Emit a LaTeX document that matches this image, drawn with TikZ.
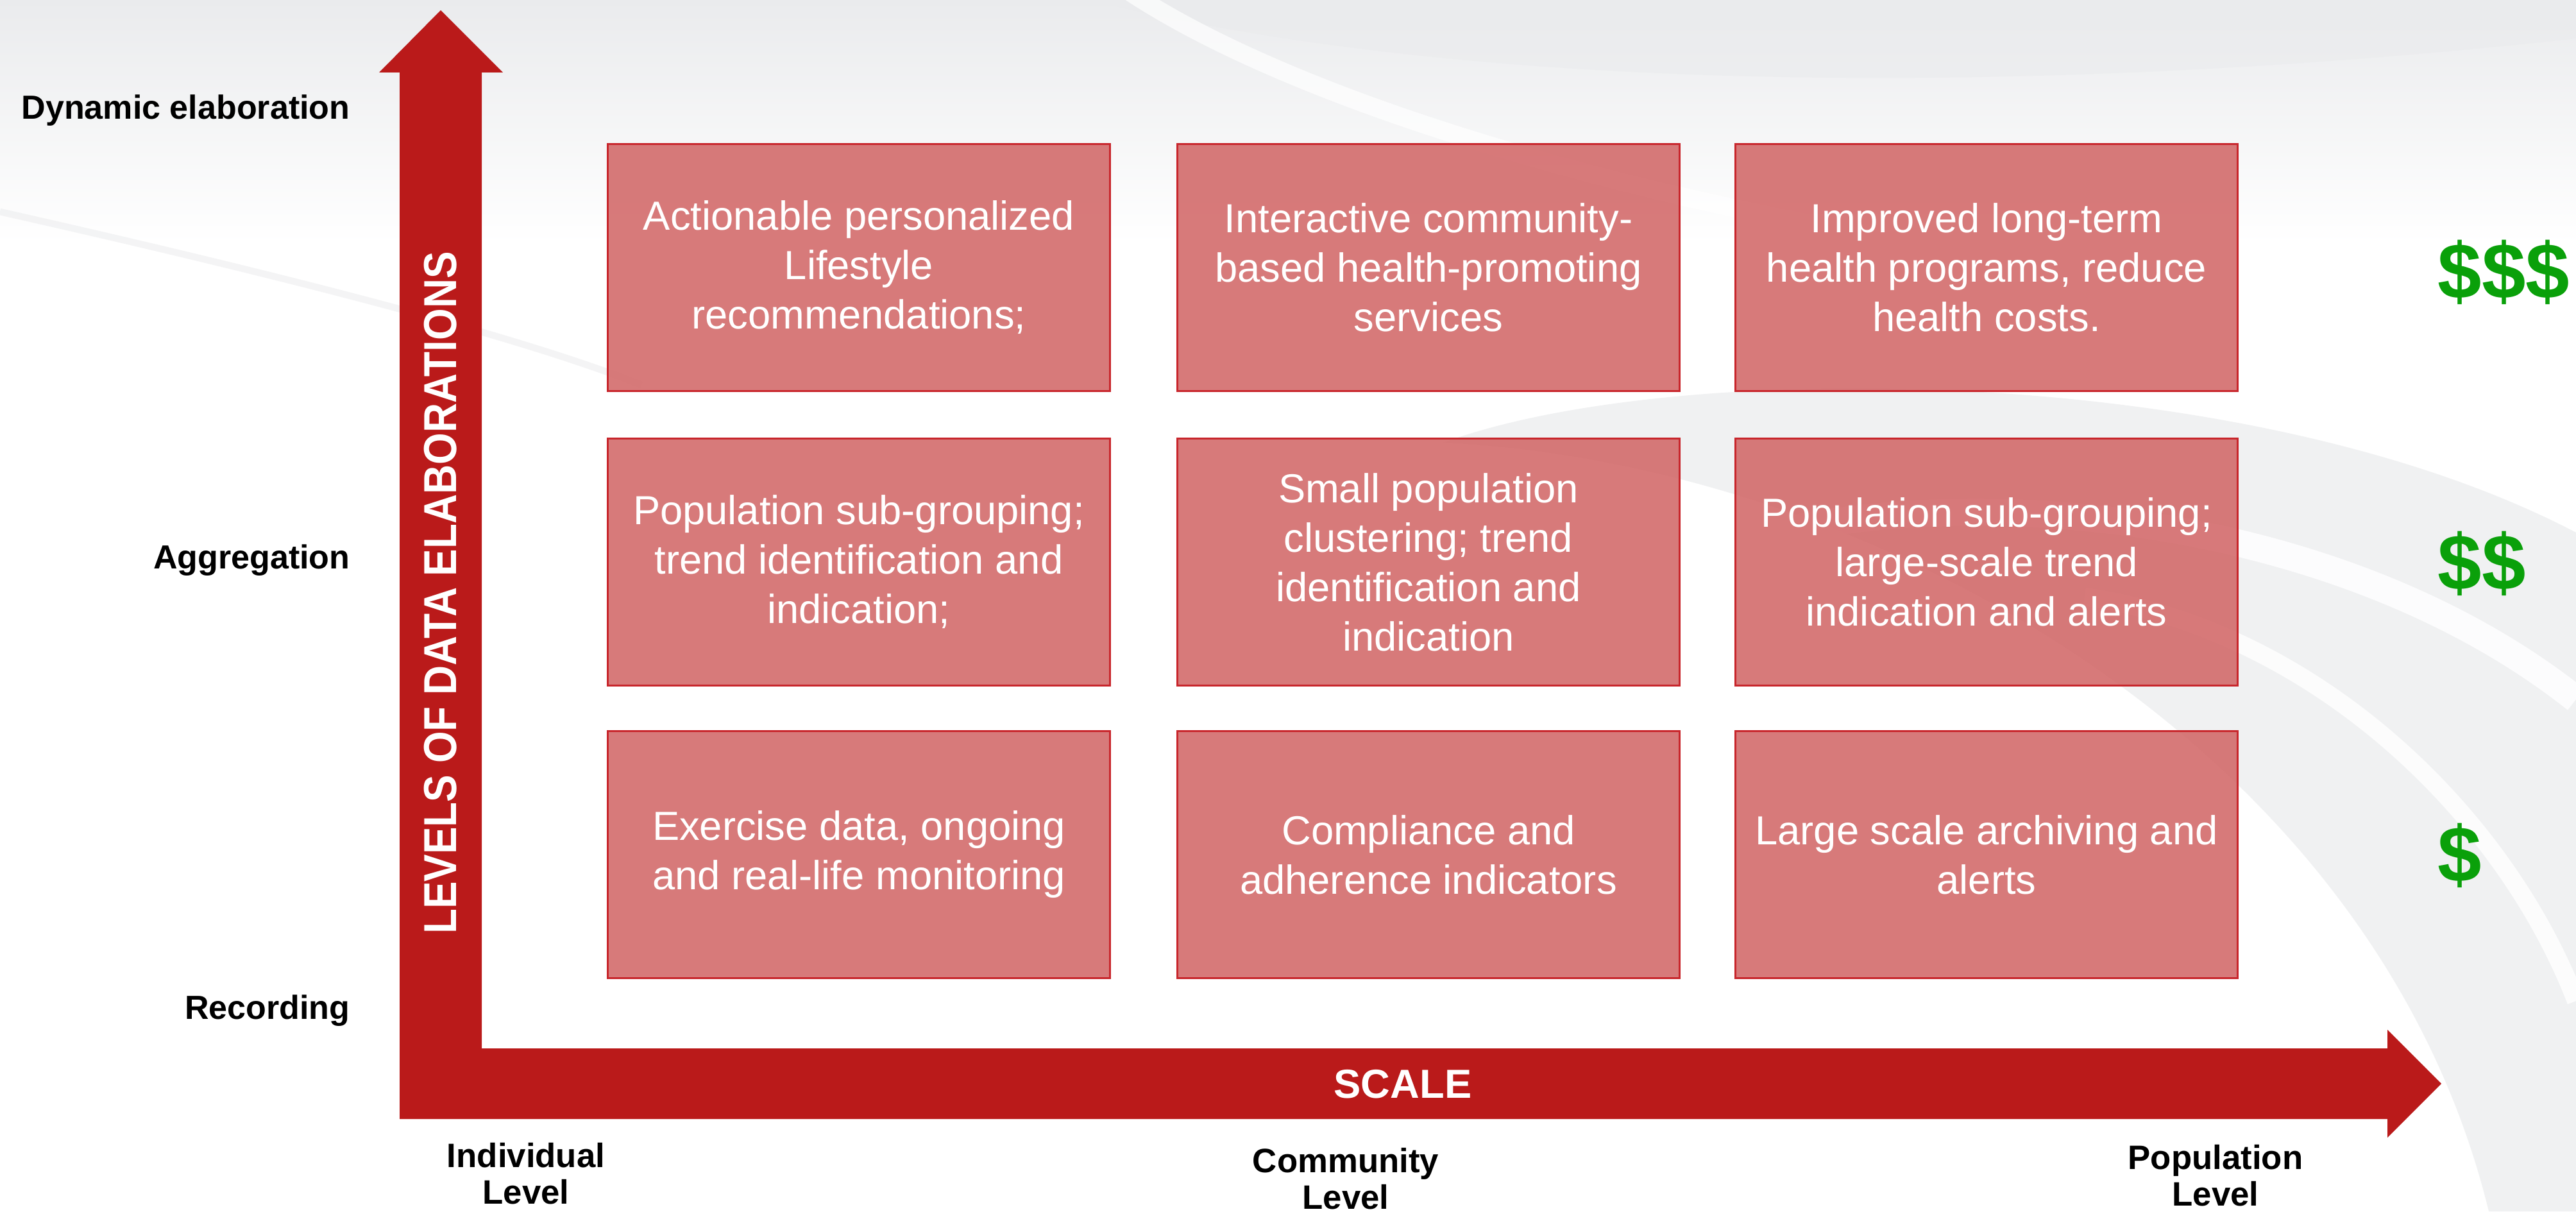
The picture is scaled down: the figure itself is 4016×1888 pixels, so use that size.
\documentclass[tikz,border=0pt]{standalone}
\usepackage{fontspec}
\setmainfont{Liberation Sans}
\usepackage{graphicx}
\definecolor{arrowred}{RGB}{186,26,26}
\definecolor{boxfill}{RGB}{210,104,104}
\definecolor{boxline}{RGB}{200,38,44}
\definecolor{moneygreen}{RGB}{10,160,10}
\definecolor{bgA}{RGB}{234,235,237}
\definecolor{bgB}{RGB}{231,232,234}
\begin{document}
\begin{tikzpicture}[x=0.01cm,y=-0.01cm,
  cell/.style={draw=boxline, line width=0.8pt, fill=boxfill, fill opacity=0.88, text opacity=1,
    minimum width=7.82cm, minimum height=3.84cm, align=center, text=white,
    font=\fontsize{18}{21.9}\selectfont},
  lvl/.style={anchor=east, font=\fontsize{14.8}{17}\selectfont\bfseries},
  scl/.style={align=center, font=\fontsize{15}{16.2}\selectfont\bfseries},
  money/.style={anchor=west, text=moneygreen, font=\fontsize{35}{40}\selectfont\bfseries, inner sep=0pt}]
\useasboundingbox (0,0) rectangle (4016,1888);
% ---------- background ----------
\fill[white] (0,0) rectangle (4016,1888);
\shade[top color=bgA, bottom color=white] (0,0) rectangle (4016,380);
\fill[bgA, opacity=0.6] (1700,0) .. controls (2300,150) and (3200,150) .. (4016,60) -- (4016,0) -- cycle;
\draw[white, line width=8pt, opacity=0.7] (1750,-20) .. controls (2000,150) and (2500,300) .. (3000,380);
\draw[bgA, line width=3pt, opacity=0.5] (0,330) .. controls (400,420) and (800,520) .. (1000,600);
\fill[bgB, opacity=0.6] (2250,690) .. controls (2600,560) and (3500,560) .. (4016,830)
   -- (4016,1888) -- (3880,1888) .. controls (3700,1150) and (2900,720) .. (2250,690) -- cycle;
\draw[white, line width=12pt, opacity=0.85] (2560,900) .. controls (2900,730) and (3600,760) .. (4016,1090);
\draw[white, line width=8pt, opacity=0.8] (3250,930) .. controls (3600,980) and (3900,1260) .. (4016,1560);
% ---------- axes (L-shaped double arrow) ----------
\coordinate (vtip) at (687,16);
\coordinate (htip) at (3806,1689);
\fill[arrowred] (vtip) -- (784,113) -- (751,113) -- (751,1634) -- (3722,1634) -- (3722,1605)
  -- (htip) -- (3722,1773) -- (3722,1744) -- (623,1744) -- (623,113) -- (591,113) -- cycle;
\node[rotate=90, text=white, inner sep=0pt] (yaxis) at (687,924)
  {\scalebox{0.885}[1]{\fontsize{20.5}{24}\selectfont\bfseries LEVELS OF DATA ELABORATIONS}};
\node[text=white, font=\fontsize{18}{21}\selectfont\bfseries] (xaxis) at (2187,1690) {SCALE};
% ---------- level labels ----------
\node[lvl] (dyn) at (558,172) {Dynamic elaboration};
\node[lvl] (agg) at (558,873) {Aggregation};
\node[lvl] (rec) at (558,1575) {Recording};
\node[scl] (ind) at (820,1829) {Individual\\Level};
\node[scl] (com) at (2098,1837) {Community\\Level};
\node[scl] (pop) at (3454,1832) {Population\\Level};
% ---------- cells ----------
\node[cell] (b11) at (1339,417) {Actionable personalized\\Lifestyle\\recommendations;};
\node[cell] (b12) at (2227,417) {Interactive community-\\based health-promoting\\services};
\node[cell] (b13) at (3097,417) {Improved long-term\\health programs, reduce\\health costs.};
\node[cell] (b21) at (1339,876) {Population sub-grouping;\\trend identification and\\indication;};
\node[cell] (b22) at (2227,876) {Small population\\clustering; trend\\identification and\\indication};
\node[cell] (b23) at (3097,876) {Population sub-grouping;\\large-scale trend\\indication and alerts};
\node[cell] (b31) at (1339,1332) {Exercise data, ongoing\\and real-life monitoring};
\node[cell] (b32) at (2227,1332) {Compliance and\\adherence indicators};
\node[cell] (b33) at (3097,1332) {Large scale archiving and\\alerts};
% ---------- cost ----------
\node[money] (m3) at (3800,424) {\$\$\$};
\node[money] (m2) at (3800,878) {\$\$};
\node[money] (m1) at (3800,1333) {\$};
\end{tikzpicture}
\end{document}
